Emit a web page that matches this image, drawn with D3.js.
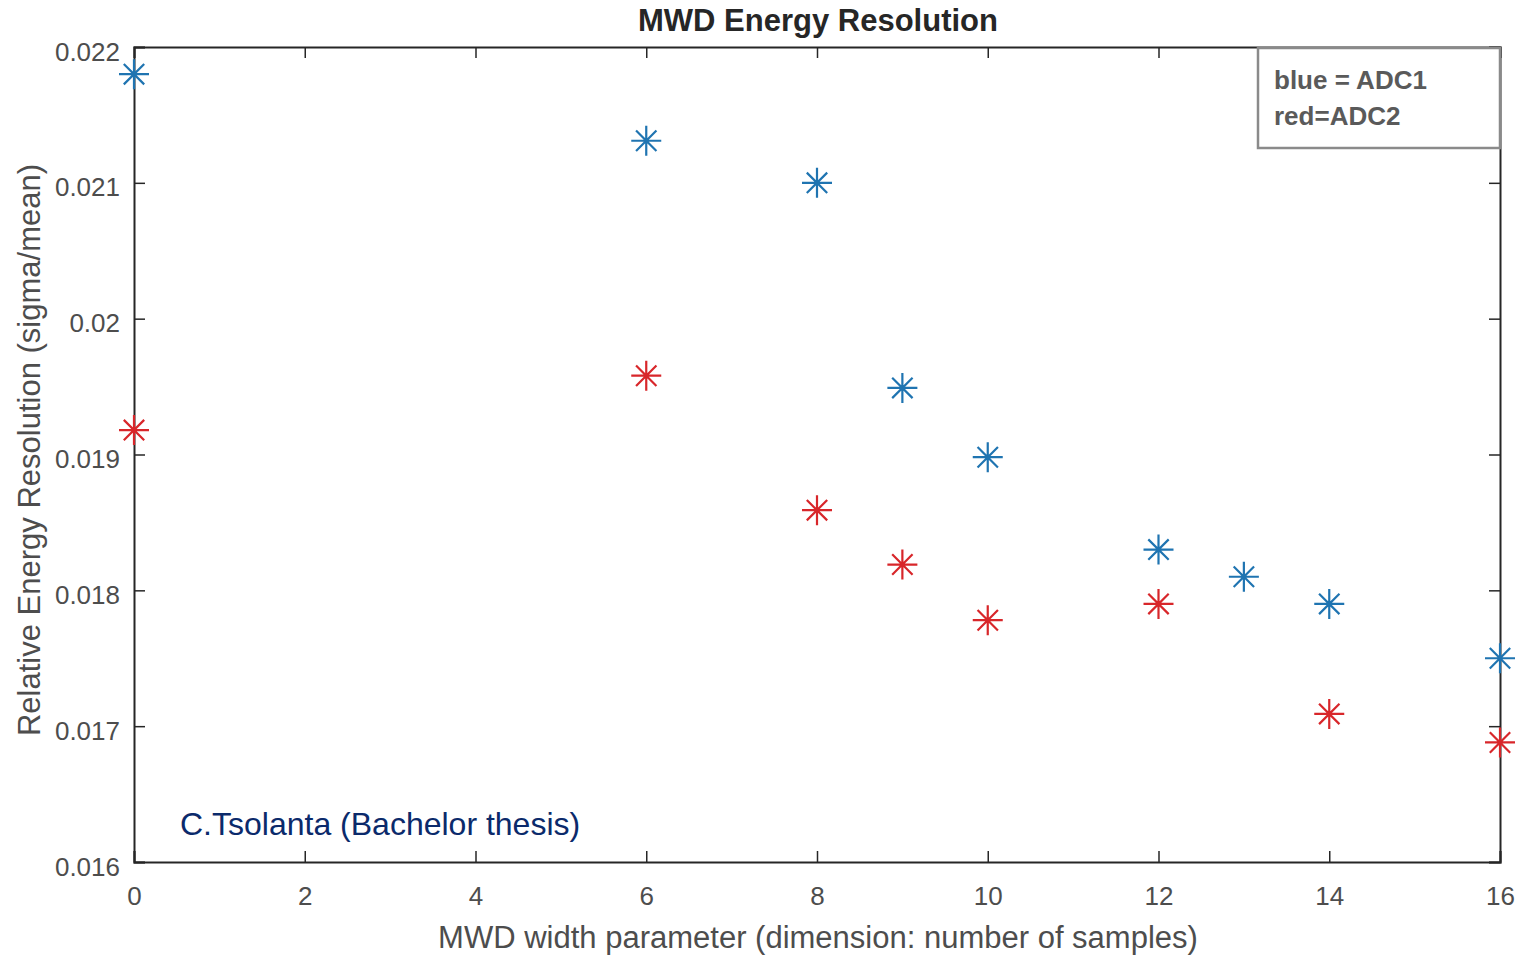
<!DOCTYPE html>
<html>
<head>
<meta charset="utf-8">
<script src="https://cdn.jsdelivr.net/npm/d3@7"></script>
<style>
  html, body { margin: 0; padding: 0; background: #fff; }
  svg { display: block; font-family: "Liberation Sans", Arial, sans-serif; }
</style>
</head>
<body>
<svg id="chart" width="1524" height="955"></svg>
<script>
// MWD width parameter (number of samples) for each measurement
const adc1Width = [0, 6, 8, 9, 10, 12, 13, 14, 16];
const adc1Resolution = [0.0218, 0.02131, 0.0210, 0.01949, 0.01898, 0.0183, 0.0181, 0.0179, 0.0175];

const adc2Width = [0, 6, 8, 9, 10, 12, 14, 16];
const adc2Resolution = [0.01918, 0.01958, 0.01859, 0.01819, 0.01778, 0.0179, 0.01709, 0.01688];

const xTicks = [0, 2, 4, 6, 8, 10, 12, 14, 16];
const yTicks = [0.016, 0.017, 0.018, 0.019, 0.020, 0.021, 0.022];
const legendLines = ["blue = ADC1", "red=ADC2"];

const svg = d3.select("#chart");
const m = { left: 134, right: 1500, top: 47, bottom: 862 };

const x = d3.scaleLinear().domain([0, 16]).range([m.left, m.right]);
const y = d3.scaleLinear().domain([0.016, 0.022]).range([m.bottom, m.top]);

const axisColor = "#262626";
const tickLen = 11;
// shortest decimal form, e.g. 0.02 rather than 0.020
const yFmt = d => String(+d.toFixed(3));

// Axes: ticks point inward, mirrored on top and right (boxed plot)
const gx = svg.append("g").attr("transform", `translate(0,${m.bottom})`)
  .call(d3.axisBottom(x).tickValues(xTicks).tickSize(-tickLen).tickFormat(d3.format("d")));
const gxTop = svg.append("g").attr("transform", `translate(0,${m.top})`)
  .call(d3.axisTop(x).tickValues(xTicks).tickSize(-tickLen).tickFormat(""));
const gy = svg.append("g").attr("transform", `translate(${m.left},0)`)
  .call(d3.axisLeft(y).tickValues(yTicks).tickSize(-tickLen).tickPadding(14).tickFormat(yFmt));
const gyRight = svg.append("g").attr("transform", `translate(${m.right},0)`)
  .call(d3.axisRight(y).tickValues(yTicks).tickSize(-tickLen).tickFormat(""));

[gx, gxTop, gy, gyRight].forEach(g => {
  g.select(".domain").attr("stroke", axisColor).attr("stroke-width", 2);
  g.selectAll(".tick line").attr("stroke", axisColor).attr("stroke-width", 1.5);
  g.selectAll(".tick text").attr("fill", "#4d4d4d").attr("font-size", 26)
    .attr("font-family", "'Liberation Sans', Arial, sans-serif");
});
gx.selectAll(".tick text").attr("y", 25).attr("dy", "0.71em");
gy.selectAll(".tick text").attr("dy", "0.5em");

// Asterisk marker path centred at 0,0
function asterisk(r) {
  const d = r * 0.68;
  return `M${-r},0L${r},0M0,${-r}L0,${r}M${-d},${-d}L${d},${d}M${-d},${d}L${d},${-d}`;
}

function drawSeries(xs, ys, color) {
  svg.append("g").selectAll("path")
    .data(xs.map((v, i) => [v, ys[i]]))
    .join("path")
    .attr("transform", d => `translate(${x(d[0])},${y(d[1])})`)
    .attr("d", asterisk(15))
    .attr("fill", "none")
    .attr("stroke", color)
    .attr("stroke-width", 2.2);
}
drawSeries(adc1Width, adc1Resolution, "#1f74b1");
drawSeries(adc2Width, adc2Resolution, "#d8262a");

// Title
svg.append("text")
  .attr("x", 818).attr("y", 31)
  .attr("text-anchor", "middle")
  .attr("font-size", 31).attr("font-weight", "bold").attr("fill", "#262626")
  .text("MWD Energy Resolution");

// Axis labels
svg.append("text")
  .attr("x", 818).attr("y", 948)
  .attr("text-anchor", "middle")
  .attr("font-size", 31).attr("fill", "#4d4d4d")
  .text("MWD width parameter (dimension: number of samples)");

svg.append("text")
  .attr("transform", `translate(29,450) rotate(-90)`)
  .attr("text-anchor", "middle")
  .attr("dominant-baseline", "central")
  .attr("font-size", 31).attr("fill", "#4d4d4d")
  .text("Relative Energy Resolution  (sigma/mean)");

// Legend box
const legend = svg.append("g");
legend.append("rect")
  .attr("x", 1258).attr("y", 48).attr("width", 242).attr("height", 100)
  .attr("fill", "#fff").attr("stroke", "#8a8a8a").attr("stroke-width", 2.5);
legend.selectAll("text").data(legendLines).join("text")
  .attr("x", 1274).attr("y", (d, i) => 89 + i * 36)
  .attr("font-size", 26).attr("font-weight", "bold").attr("fill", "#5a5a5a")
  .text(d => d);

// Author note
svg.append("text")
  .attr("x", 180).attr("y", 835)
  .attr("font-size", 32).attr("fill", "#0b2a6b")
  .text("C.Tsolanta (Bachelor thesis)");
</script>
</body>
</html>
